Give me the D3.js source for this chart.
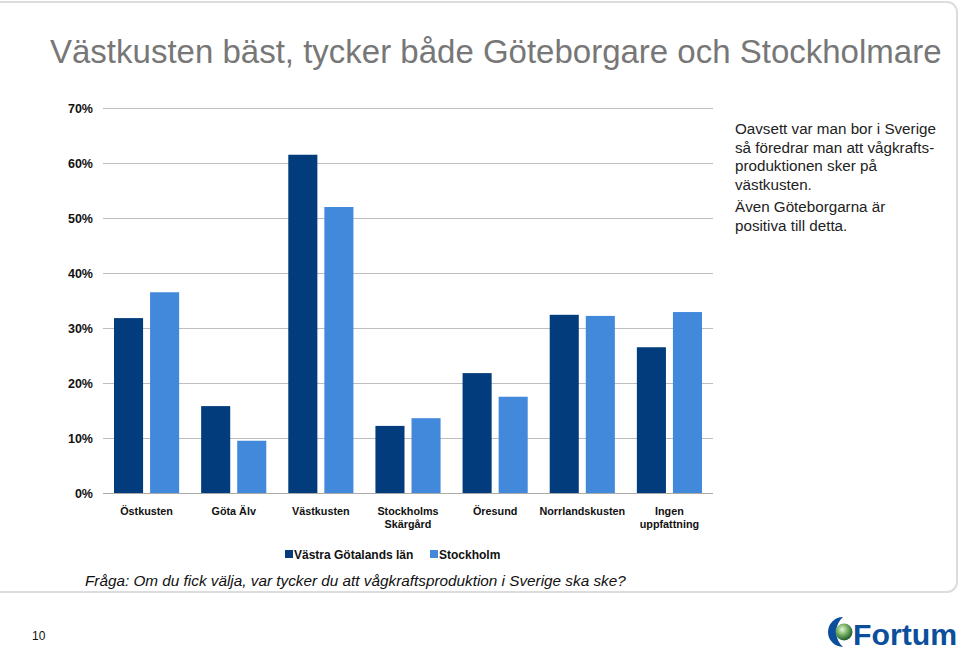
<!DOCTYPE html>
<html><head><meta charset="utf-8">
<script src="https://cdn.jsdelivr.net/npm/d3@7"></script>
<style>body{margin:0;background:#fff}svg{display:block;font-family:"Liberation Sans",Arial,sans-serif}</style>
</head><body>
<svg id="c" width="960" height="650"></svg>
<script>
const categories = ["Östkusten","Göta Älv","Västkusten","Stockholms\nSkärgård","Öresund","Norrlandskusten","Ingen\nuppfattning"];
const seriesNames = ["Västra Götalands län","Stockholm"];
const vastraGotaland = [31.8,15.8,61.5,12.2,21.8,32.4,26.5];
const stockholm = [36.5,9.5,52.0,13.6,17.5,32.2,32.9];
const yTicks = [0,10,20,30,40,50,60,70];
const colors = ["#023c7c","#4289dc"];
const noteLines = [["Oavsett var man bor i Sverige","så föredrar man att vågkrafts-","produktionen sker på","västkusten."],["Även Göteborgarna är","positiva till detta."]];
const titleText = "Västkusten bäst, tycker både Göteborgare och Stockholmare";
const questionText = "Fråga: Om du fick välja, var tycker du att vågkraftsproduktion i Sverige ska ske?";

const svg = d3.select("#c");
svg.append("rect").attr("x",-20).attr("y",2).attr("width",977).attr("height",590).attr("rx",10)
  .attr("fill","none").attr("stroke","#dcdcdc").attr("stroke-width",2);

svg.append("text").attr("x",50).attr("y",63).attr("font-size",33).attr("fill","#777").text(titleText);

const x0 = d3.scaleBand().domain(d3.range(categories.length)).range([103,713]).padding(0);
const x1 = d3.scaleBand().domain([0,1]).range([0,x0.bandwidth()]).paddingInner(0.194).paddingOuter(0.305);
const y = d3.scaleLinear().domain([0,70]).range([493,108]);

const g = svg.append("g");
g.selectAll(".grid").data(yTicks).join("line")
  .attr("x1",103).attr("x2",713).attr("y1",d=>y(d)+0.5).attr("y2",d=>y(d)+0.5)
  .attr("stroke",d=>d===0?"#aaa":"#bdbdbd").attr("stroke-width",1);
g.selectAll(".yl").data(yTicks).join("text")
  .attr("x",93).attr("y",d=>y(d)+4.5).attr("text-anchor","end")
  .attr("font-size",12.5).attr("font-weight","bold").attr("fill","#111").text(d=>d+"%");

const series = [vastraGotaland, stockholm];
series.forEach((vals,si)=>{
  g.selectAll(".b"+si).data(vals).join("rect")
   .attr("x",(d,i)=>x0(i)+x1(si)).attr("width",x1.bandwidth())
   .attr("y",d=>y(d)).attr("height",d=>y(0)-y(d)).attr("fill",colors[si]);
});

categories.forEach((c,i)=>{
  const t = g.append("text").attr("x",x0(i)+x0.bandwidth()/2).attr("y",515)
   .attr("text-anchor","middle").attr("font-size",10.8).attr("font-weight","bold").attr("fill","#111");
  c.split("\n").forEach((ln,k)=>t.append("tspan").attr("x",x0(i)+x0.bandwidth()/2).attr("dy",k?13:0).text(ln));
});

const legX = [285,430];
seriesNames.forEach((n,i)=>{
  svg.append("rect").attr("x",legX[i]).attr("y",550).attr("width",8).attr("height",8).attr("fill",colors[i]);
  svg.append("text").attr("x",legX[i]+9).attr("y",559).attr("font-size",12).attr("font-weight","bold").attr("fill","#111").text(n);
});

let ny = 134;
noteLines.forEach((para,pi)=>{
  if(pi) ny += 4;
  para.forEach(ln=>{svg.append("text").attr("x",735).attr("y",ny).attr("font-size",15.2).attr("fill","#222").text(ln); ny+=18.5;});
});

svg.append("text").attr("x",85).attr("y",586).attr("font-size",15.3).attr("font-style","italic").attr("fill","#111").text(questionText);
svg.append("text").attr("x",32).attr("y",640).attr("font-size",12).attr("fill","#111").text("10");

const defs = svg.append("defs");
const rg = defs.append("radialGradient").attr("id","sph").attr("cx","40%").attr("cy","35%").attr("r","65%");
rg.append("stop").attr("offset","0%").attr("stop-color","#e8f4e0");
rg.append("stop").attr("offset","45%").attr("stop-color","#7fb86a");
rg.append("stop").attr("offset","100%").attr("stop-color","#1d5a2a");
svg.append("path").attr("d","M843,617 A15,15 0 1 0 843,647 A20,20 0 0 1 843,617 Z").attr("fill","#0b4f9c");
svg.append("circle").attr("cx",844).attr("cy",632).attr("r",8.5).attr("fill","url(#sph)");
svg.append("text").attr("x",853).attr("y",645).attr("font-size",30).attr("font-weight","bold").attr("fill","#0b4f9c")
  .attr("textLength",104).attr("lengthAdjust","spacingAndGlyphs").text("Fortum");
</script>
</body></html>
